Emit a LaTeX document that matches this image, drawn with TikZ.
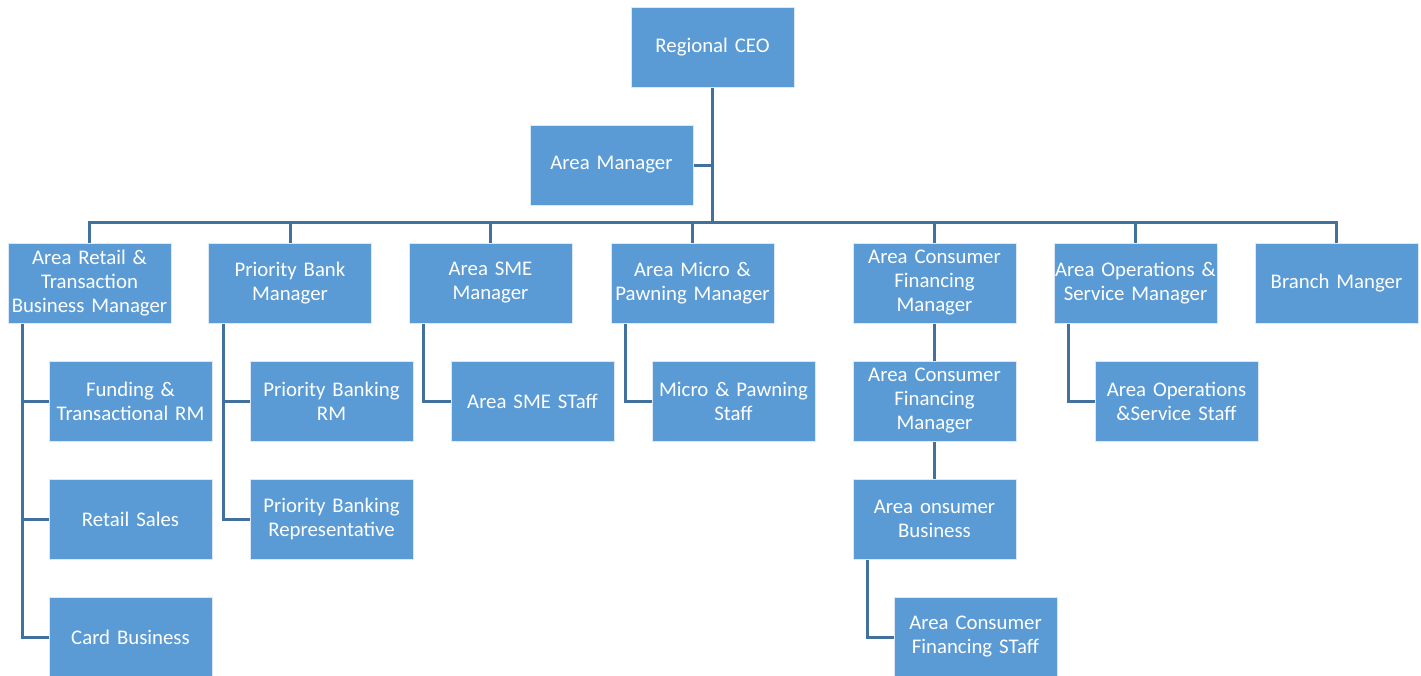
\documentclass[tikz,border=0pt]{standalone}
\usepackage{fontspec}
\setmainfont{Carlito}
\usetikzlibrary{backgrounds}
\definecolor{boxfill}{HTML}{5B9BD5}
\definecolor{boxedge}{HTML}{DCE8F5}
\definecolor{linkc}{HTML}{41719C}
\tikzset{
  box/.style={fill=boxfill, draw=boxedge, line width=1pt, minimum width=163pt, minimum height=80pt,
    inner sep=0pt, text width=163pt, align=center, text=white,
    font=\fontsize{20.8pt}{24pt}\selectfont},
  link/.style={draw=linkc, line width=3pt}
}
\begin{document}
\begin{tikzpicture}[x=1pt,y=-1pt]
\useasboundingbox (0,0) rectangle (1421,675);
% nodes (centres in pixel coordinates)
\node[box] (ceo) at (712.5,47) {Regional CEO};
\node[box] (am) at (611.5,165) {Area Manager};
\node[box] (ret) at (89.5,283) {Area Retail \&\\Transaction\\Business Manager};
\node[box] (pbm) at (290,283) {Priority Bank\\Manager};
\node[box] (sme) at (490.5,283) {Area SME\\Manager};
\node[box] (mic) at (692.5,283) {Area Micro \&\\Pawning Manager};
\node[box] (acf) at (934.5,283) {Area Consumer\\Financing\\Manager};
\node[box] (ops) at (1135.5,283) {Area Operations \&\\Service Manager};
\node[box] (brm) at (1336.5,283) {Branch Manger};
\node[box] (fund) at (130.5,401) {Funding \&\\Transactional RM};
\node[box] (rsal) at (130.5,519) {Retail Sales};
\node[box] (card) at (130.5,637) {Card Business};
\node[box] (pbrm) at (331.5,401) {Priority Banking\\RM};
\node[box] (pbrep) at (331.5,519) {Priority Banking\\Representative};
\node[box] (smes) at (532.5,401) {Area SME STaff};
\node[box] (mics) at (733.5,401) {Micro \& Pawning\\Staff};
\node[box] (acf2) at (934.5,401) {Area Consumer\\Financing\\Manager};
\node[box] (acb) at (934.5,519) {Area onsumer\\Business};
\node[box] (acfs) at (975.5,637) {Area Consumer\\Financing STaff};
\node[box] (opss) at (1176.5,401) {Area Operations\\\&Service Staff};
\coordinate (bus) at (712.5,222);
\begin{scope}[on background layer]
\draw[link] (ceo.south) -- (bus);
\draw[link] (am.east) -- (am.east -| bus);
\foreach \n in {ret,pbm,sme,mic,acf,ops,brm}{
  \draw[link] (\n.north) |- (bus);
}
\foreach \p/\c in {ret/fund,ret/rsal,ret/card,pbm/pbrm,pbm/pbrep,sme/smes,mic/mics,ops/opss,acb/acfs}{
  \draw[link] ([xshift=15pt]\p.south west) |- (\c.west);
}
\draw[link] (acf.south) -- (acf2.north);
\draw[link] (acf2.south) -- (acb.north);
\end{scope}
\end{tikzpicture}
\end{document}
